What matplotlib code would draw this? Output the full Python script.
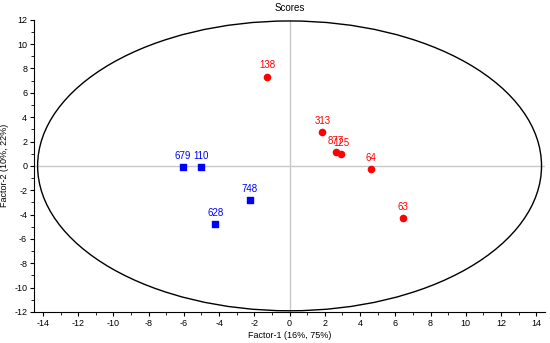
import matplotlib
matplotlib.use("Agg")
import matplotlib.pyplot as plt
from matplotlib.patches import Ellipse
from matplotlib.ticker import MultipleLocator

plt.rcParams['font.family'] = ['Liberation Sans', 'DejaVu Sans']
plt.rcParams['axes.unicode_minus'] = False

# scores, factor-1 / factor-2
blue_labels = ["679", "110", "748", "628"]
blue_x = [-6.04, -5.02, -2.26, -4.22]
blue_y = [-0.08, -0.08, -2.84, -4.77]

red_labels = ["138", "313", "877", "125", "64", "63"]
red_x = [-1.27, 1.86, 2.63, 2.94, 4.64, 6.46]
red_y = [7.32, 2.75, 1.10, 0.96, -0.28, -4.27]

ellipse_a = 14.3
ellipse_b = 11.9

fig = plt.figure(figsize=(5.5, 3.43), dpi=100)
ax = fig.add_axes([0.062, 0.0904, 0.929, 0.852])

ax.axhline(0, color="#c8c8c8", lw=1, zorder=1)
ax.axvline(0, color="#c8c8c8", lw=1, zorder=1)

ax.add_patch(Ellipse((0, 0), 2 * ellipse_a, 2 * ellipse_b, fill=False,
                     edgecolor="black", lw=1, zorder=2))

ax.scatter(blue_x, blue_y, marker="s", s=20, color="#0000ff", zorder=3)
ax.scatter(red_x, red_y, marker="o", s=20, color="#ff0000", zorder=3)

for lab, x, y in zip(blue_labels, blue_x, blue_y):
    ax.annotate(lab, (x, y), xytext=(0, 4.5), textcoords="offset points",
                ha="center", va="bottom", color="#0000ff", fontsize=7)
for lab, x, y in zip(red_labels, red_x, red_y):
    ax.annotate(lab, (x, y), xytext=(0, 4.5), textcoords="offset points",
                ha="center", va="bottom", color="#ff0000", fontsize=7)

ax.set_xlim(-14.5, 14.5)
ax.set_ylim(-12, 12)
ax.xaxis.set_major_locator(MultipleLocator(2))
ax.xaxis.set_minor_locator(MultipleLocator(1))
ax.yaxis.set_major_locator(MultipleLocator(2))
ax.yaxis.set_minor_locator(MultipleLocator(1))
ax.tick_params(which="both", direction="out", labelsize=6.5, pad=2)
ax.tick_params(which="major", length=3)
ax.tick_params(which="minor", length=2)

ax.spines["top"].set_visible(False)
ax.spines["right"].set_visible(False)

ax.set_title("Scores", fontsize=7, pad=6)
ax.set_xlabel("Factor-1 (16%, 75%)", fontsize=6.5, labelpad=2)
ax.set_ylabel("Factor-2 (10%, 22%)", fontsize=6.5)
ax.yaxis.set_label_coords(-0.05, 0.5)

fig.savefig("out.png", dpi=100)
